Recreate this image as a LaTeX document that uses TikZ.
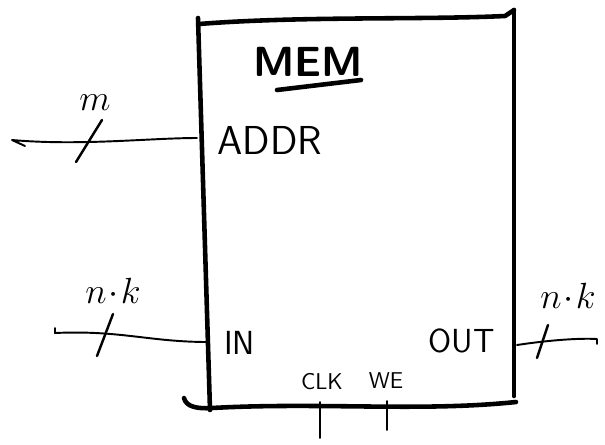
\documentclass[tikz,border=0pt]{standalone}
\usepackage{amsmath}
\usetikzlibrary{positioning}

\tikzset{
  frame/.style={line width=2.6pt, line cap=round, line join=round},
  wire/.style={line width=1.1pt, line cap=round, line join=round},
  tick/.style={line width=1.4pt, line cap=round},
  pinlabel/.style={inner sep=0pt, font=\sffamily\fontsize{19}{19}\selectfont},
  buswidth/.style={inner sep=0pt, font=\fontsize{22}{22}\selectfont},
}

\begin{document}
\begin{tikzpicture}[x=0.02cm, y=-0.02cm]
        \useasboundingbox (0,0) rectangle (605,444);

        % the memory block
        \draw[frame] (198,18) -- (210,410);
        \draw[frame] (199,24) .. controls (300,16) and (420,20) .. (505,16) -- (514,10);
        \draw[frame] (514,10) -- (514,396);
        \draw[frame] (184,398) .. controls (186,407) and (198,409) .. (212,408)
                .. controls (320,402) and (420,412) .. (516,402);

        \node[inner sep=0pt, font=\sffamily\bfseries\fontsize{24}{24}\selectfont] (mem) at (308,62) {MEM};
        \coordinate (mem-ul-a) at (277,90);
        \coordinate (mem-ul-b) at (361,80);
        \draw[frame] (mem-ul-a) -- (mem-ul-b);

        % ports
        \node[pinlabel, font=\sffamily\fontsize{23}{23}\selectfont, anchor=west] (addr) at (217,140) {ADDR};
        \node[pinlabel, anchor=west] (in) at (224,343) {IN};
        \node[pinlabel, anchor=east] (out) at (495,341) {OUT};
        \node[pinlabel, font=\sffamily\fontsize{13}{13}\selectfont] (clk) at (322,382) {CLK};
        \node[pinlabel, font=\sffamily\fontsize{13}{13}\selectfont] (we) at (386,381) {WE};

        \coordinate (addr-src) at (12,140);
        \coordinate (addr-pin) at (197,138);
        \coordinate (in-src) at (55,333);
        \coordinate (in-pin) at (208,342);
        \coordinate (out-pin) at (517,345);
        \coordinate (out-dst) at (597,339);
        \coordinate (clk-pin) at (320,402);
        \coordinate (clk-src) at (320,438);
        \coordinate (we-pin) at (387,401);
        \coordinate (we-src) at (387,430);

        \draw[wire] (25,146) -- (addr-src) .. controls (80,146) and (150,138) .. (addr-pin);
        \draw[wire] (55,328) -- (in-src) .. controls (120,330) and (150,342) .. (in-pin);
        \draw[wire] (out-pin) .. controls (550,340) and (580,338) .. (out-dst) -- (597,344);
        \draw[wire] (clk-pin) -- (clk-src);
        \draw[wire] (we-pin) -- (we-src);

        % bus widths
        \draw[tick] (76,162) -- (102,120);
        \draw[tick] (97,356) -- (113,314);
        \draw[tick] (537,358) -- (548,325);
        \node[buswidth] (m) at (95,103) {$m$};
        \node[buswidth] (nk-in) at (113,291) {$n\!\cdot\! k$};
        \node[buswidth] (nk-out) at (568,296) {$n\!\cdot\! k$};
    \end{tikzpicture}
\end{document}
